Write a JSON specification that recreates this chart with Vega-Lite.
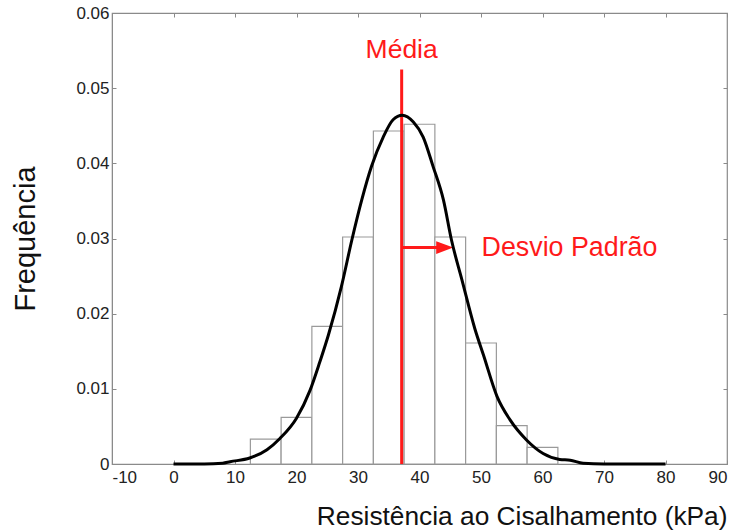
{
  "$schema": "https://vega.github.io/schema/vega-lite/v6.json",
  "width": 615,
  "height": 451,
  "autosize": {"type": "none"},
  "padding": {"left": 112, "top": 13, "right": 14, "bottom": 67},
  "background": "white",
  "config": {
    "view": {"stroke": "#8a8a8a", "strokeWidth": 1.2},
    "font": "Liberation Sans",
    "axis": {
      "domainColor": "#8a8a8a",
      "tickColor": "#8a8a8a",
      "tickSize": -4,
      "grid": false,
      "labelFont": "Liberation Sans",
      "labelFontSize": 17,
      "labelColor": "#222222",
      "titleFont": "Liberation Sans",
      "titleFontWeight": "normal",
      "titleColor": "#111111"
    }
  },
  "datasets": {
    "bins": [
      {"lo": 12.5, "hi": 17.5, "freq": 0.0033, "base": 0},
      {"lo": 17.5, "hi": 22.5, "freq": 0.0062, "base": 0},
      {"lo": 22.5, "hi": 27.5, "freq": 0.0183, "base": 0},
      {"lo": 27.5, "hi": 32.5, "freq": 0.0302, "base": 0},
      {"lo": 32.5, "hi": 37.5, "freq": 0.0443, "base": 0},
      {"lo": 37.5, "hi": 42.5, "freq": 0.0452, "base": 0},
      {"lo": 42.5, "hi": 47.5, "freq": 0.0302, "base": 0},
      {"lo": 47.5, "hi": 52.5, "freq": 0.0161, "base": 0},
      {"lo": 52.5, "hi": 57.5, "freq": 0.0051, "base": 0},
      {"lo": 57.5, "hi": 62.5, "freq": 0.0022, "base": 0}
    ],
    "curve": [
      {"x": 0, "f": 0.0},
      {"x": 5, "f": 0.0},
      {"x": 8, "f": 0.0001},
      {"x": 9.2, "f": 0.0003},
      {"x": 12.4, "f": 0.0008},
      {"x": 15.2, "f": 0.0019},
      {"x": 17.3, "f": 0.0034},
      {"x": 20.0, "f": 0.0061},
      {"x": 22.2, "f": 0.0098},
      {"x": 23.8, "f": 0.0136},
      {"x": 25.2, "f": 0.0172},
      {"x": 27.3, "f": 0.0236},
      {"x": 29.0, "f": 0.0298},
      {"x": 30.6, "f": 0.0351},
      {"x": 32.2, "f": 0.0396},
      {"x": 34.1, "f": 0.0435},
      {"x": 35.7, "f": 0.0458},
      {"x": 37.2, "f": 0.0464},
      {"x": 39.0, "f": 0.0455},
      {"x": 40.6, "f": 0.0435},
      {"x": 42.2, "f": 0.0396},
      {"x": 43.9, "f": 0.0351},
      {"x": 45.2, "f": 0.0298},
      {"x": 46.9, "f": 0.0245},
      {"x": 49.0, "f": 0.0180},
      {"x": 50.4, "f": 0.0145},
      {"x": 52.6, "f": 0.0090},
      {"x": 54.7, "f": 0.0059},
      {"x": 57.4, "f": 0.0032},
      {"x": 60.1, "f": 0.0014},
      {"x": 62.8, "f": 0.0006},
      {"x": 64.5, "f": 0.0005},
      {"x": 66.6, "f": 0.0001},
      {"x": 70, "f": 0.0},
      {"x": 80, "f": 0.0}
    ],
    "stats": [
      {"media": 37.1, "desvio": 8.3, "base": 0, "topo": 0.0525, "nivel": 0.0288}
    ]
  },
  "layer": [
    {
      "layer": [
        {
          "data": {"name": "bins"},
          "mark": {"type": "rect", "fill": "white", "stroke": "#9a9a9a", "strokeWidth": 1.2},
          "encoding": {
            "x": {
              "field": "lo", "type": "quantitative",
              "scale": {"domain": [-10, 90], "nice": false},
              "axis": {
                "orient": "bottom",
                "values": [-10, 0, 10, 20, 30, 40, 50, 60, 70, 80, 90],
                "labelExpr": "datum.value < 0 ? '-' + abs(datum.value) : '' + datum.value",
                "labelPadding": 9,
                "title": "Resistência ao Cisalhamento (kPa)",
                "titleFontSize": 26.3,
                "titleAnchor": "end",
                "titleBaseline": "alphabetic",
                "titleY": 60
              }
            },
            "x2": {"field": "hi"},
            "y": {
              "field": "freq", "type": "quantitative",
              "scale": {"domain": [0, 0.06], "nice": false},
              "axis": {
                "orient": "left",
                "values": [0, 0.01, 0.02, 0.03, 0.04, 0.05, 0.06],
                "labelExpr": "datum.value == 0 ? '0' : format(datum.value, '.2f')",
                "labelPadding": 7,
                "title": "Frequência",
                "titleFontSize": 29,
                "titleBaseline": "middle",
                "titleX": -87
              }
            },
            "y2": {"field": "base"}
          }
        },
        {
          "data": {"name": "stats"},
          "mark": {"type": "rule", "color": "#ff1a1a", "strokeWidth": 3},
          "encoding": {
            "x": {"field": "media", "type": "quantitative"},
            "y": {"field": "base", "type": "quantitative"},
            "y2": {"field": "topo"}
          }
        },
        {
          "data": {"name": "stats"},
          "transform": [{"calculate": "datum.media + datum.desvio - 1.2", "as": "haste"}],
          "mark": {"type": "rule", "color": "#ff1a1a", "strokeWidth": 3},
          "encoding": {
            "x": {"field": "media", "type": "quantitative"},
            "x2": {"field": "haste"},
            "y": {"field": "nivel", "type": "quantitative"}
          }
        },
        {
          "data": {"name": "stats"},
          "transform": [{"calculate": "datum.media + datum.desvio - 1.3", "as": "ponta"}],
          "mark": {"type": "point", "filled": true, "color": "#ff1a1a", "opacity": 1, "shape": "M -1 -0.75 L 1 0 L -1 0.75 Z", "size": 290},
          "encoding": {
            "x": {"field": "ponta", "type": "quantitative"},
            "y": {"field": "nivel", "type": "quantitative"}
          }
        },
        {
          "data": {"name": "stats"},
          "mark": {"type": "text", "text": "Média", "color": "#ff1a1a", "fontSize": 26.5, "font": "Liberation Sans", "align": "center", "baseline": "alphabetic", "dy": -11},
          "encoding": {
            "x": {"field": "media", "type": "quantitative"},
            "y": {"field": "topo", "type": "quantitative"}
          }
        },
        {
          "data": {"name": "stats"},
          "transform": [{"calculate": "datum.media + datum.desvio + 4.7", "as": "rotulo"}],
          "mark": {"type": "text", "text": "Desvio Padrão", "color": "#ff1a1a", "fontSize": 26.8, "font": "Liberation Sans", "align": "left", "baseline": "middle"},
          "encoding": {
            "x": {"field": "rotulo", "type": "quantitative"},
            "y": {"field": "nivel", "type": "quantitative"}
          }
        }
      ]
    },
    {
      "data": {"name": "curve"},
      "mark": {"type": "line", "color": "black", "strokeWidth": 3, "interpolate": "monotone"},
      "encoding": {
        "x": {
          "field": "x", "type": "quantitative",
          "axis": {"orient": "top", "values": [-10, 0, 10, 20, 30, 40, 50, 60, 70, 80, 90], "labels": false, "domain": false, "title": ""}
        },
        "y": {
          "field": "f", "type": "quantitative",
          "axis": {"orient": "right", "values": [0, 0.01, 0.02, 0.03, 0.04, 0.05, 0.06], "labels": false, "domain": false, "title": ""}
        }
      }
    }
  ],
  "resolve": {"axis": {"x": "independent", "y": "independent"}}
}
